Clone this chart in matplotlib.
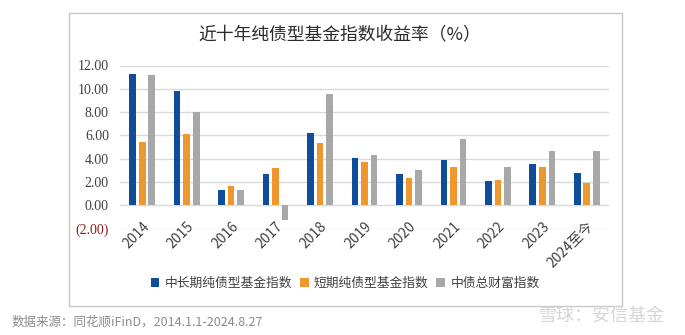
import numpy as np
import matplotlib
matplotlib.use("Agg")
import matplotlib.pyplot as plt
from matplotlib.patches import Rectangle

plt.rcParams['font.family'] = ['Noto Sans CJK SC', 'DejaVu Sans']

years = ['2014', '2015', '2016', '2017', '2018', '2019', '2020', '2021', '2022', '2023', '2024至今']
mid_long = [11.23, 9.83, 1.29, 2.64, 6.23, 4.05, 2.64, 3.88, 2.04, 3.53, 2.79]
short = [5.40, 6.15, 1.64, 3.22, 5.32, 3.71, 2.38, 3.28, 2.13, 3.28, 1.95]
cb_wealth = [11.18, 7.99, 1.29, -1.24, 9.57, 4.31, 3.05, 5.66, 3.28, 4.66, 4.66]
series_names = ['中长期纯债型基金指数', '短期纯债型基金指数', '中债总财富指数']
colors = ['#0F4C9A', '#F0962E', '#A8A8A8']
yticks = [-2, 0, 2, 4, 6, 8, 10, 12]

fig = plt.figure(figsize=(6.85, 3.35), dpi=100)
ax = fig.add_axes([120 / 685, 1 - 228.5 / 335, 489 / 685, 163 / 335])

x = np.arange(len(years))
w = 0.15
step = 0.215
for i, (vals, name, c) in enumerate(zip([mid_long, short, cb_wealth], series_names, colors)):
    ax.bar(x + (i - 1) * step, vals, width=w, color=c, label=name, zorder=3)

ax.set_xlim(-0.5, len(years) - 0.5)
ax.set_ylim(-2, 12)
ax.set_yticks(yticks)
ax.set_yticklabels(['(2.00)' if v < 0 else '%.2f' % v for v in yticks],
                   family='Liberation Serif', fontsize=10, color='#404040')
ax.get_yticklabels()[0].set_color('#8B1A1A')
ax.yaxis.grid(True, color='#d9d9d9', linewidth=1, zorder=0)
ax.tick_params(axis='y', length=0, pad=8)

for s in ['left', 'right', 'top']:
    ax.spines[s].set_visible(False)
ax.spines['bottom'].set_position(('data', 0))
ax.spines['bottom'].set_visible(False)
ax.set_xticks(x)
ax.set_xticklabels(years, rotation=45, ha='right', rotation_mode='anchor',
                   fontsize=10, color='#404040')
ax.tick_params(axis='x', length=0, pad=10)

fig.text(340 / 685, 1 - 35 / 335, '近十年纯债型基金指数收益率（%）', ha='center', va='center',
         fontsize=12.8, color='#2b2b2b')

leg = fig.legend(loc='center', bbox_to_anchor=(345 / 685, 1 - 283 / 335), ncol=3,
                 frameon=False, fontsize=9.2, handlelength=0.7, handleheight=0.7,
                 handletextpad=0.4, columnspacing=0.6, borderaxespad=0)
for t in leg.get_texts():
    t.set_color('#404040')

fig.patches.append(Rectangle((69 / 685, 1 - 306 / 335), 553 / 685, 293 / 335,
                             transform=fig.transFigure, fill=False,
                             edgecolor='#c8c8c8', linewidth=1))

fig.text(12 / 685, 1 - 322 / 335, '数据来源：同花顺iFinD，2014.1.1-2024.8.27', ha='left', va='center',
         fontsize=9, color='#8c8c8c')
fig.text(665 / 685, 1 - 316 / 335, '雪球：安信基金', ha='right', va='center',
         fontsize=13, color='#d6d6d6')

fig.savefig('out.png', dpi=100)
